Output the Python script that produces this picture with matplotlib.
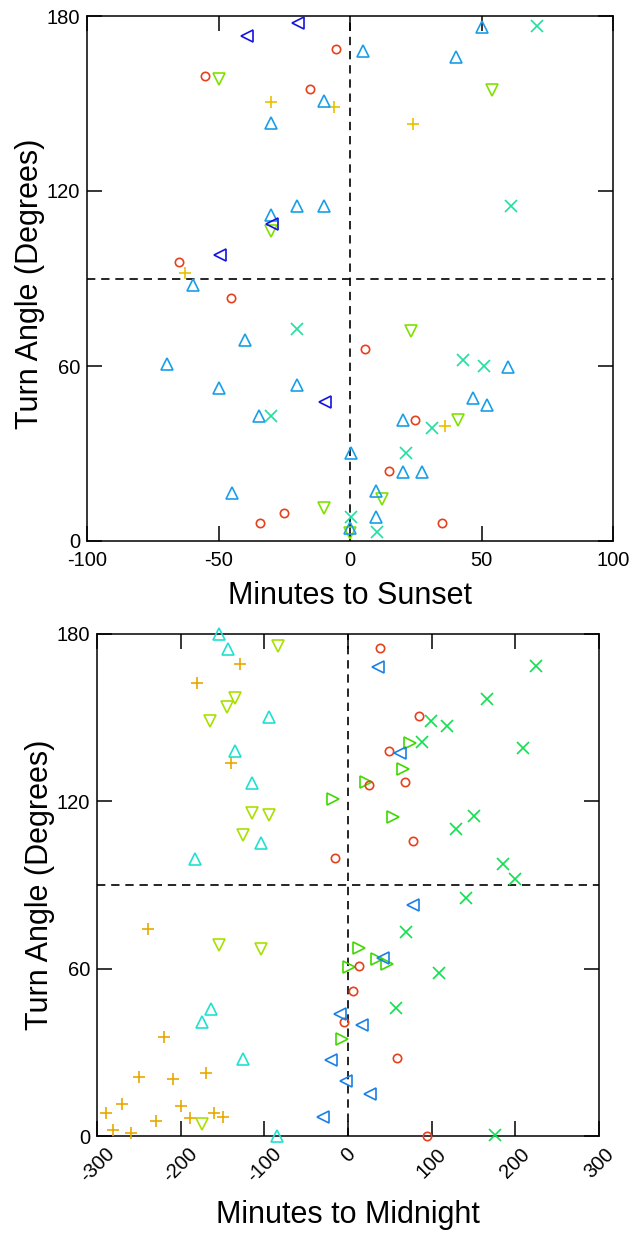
import numpy as np
import matplotlib
matplotlib.use('Agg')
import matplotlib.pyplot as plt

plt.rcParams['font.family'] = ['Liberation Sans', 'DejaVu Sans']
plt.rcParams['axes.unicode_minus'] = False

# TOP PANEL DATA (minutes to sunset, turn angle)
sun_circle_x = [-55, -15.2, -5.3, -65.1, -45.1, -34.2, -25.1, 5.8, 24.8, 14.8, 34.9]
sun_circle_y = [159.4, 154.8, 168.7, 95.8, 83.4, 6.1, 9.5, 65.7, 41.4, 24.1, 6.1]
sun_down_x = [-49.7, -30.2, -9.9, 0, 54.1, 23.1, 41.1, 12]
sun_down_y = [158.3, 106.4, 11.2, 2.6, 154.6, 72, 41.5, 14.5]
sun_plus_x = [-29.9, -6.1, -62.9, 24.1, 36]
sun_plus_y = [150.6, 148.9, 92, 143, 39.4]
sun_up_x = [-9.9, -29.9, -20, -9.9, -29.9, 50.1, 5.1, 40.2, -59.6, -39.8, -69.7,
            -49.7, -20, -34.7, 0.3, -44.9, 0, 60.2, 46.9, 52.2, 20, 20, 27.3, 9.9, 9.9]
sun_up_y = [151, 143.4, 114.8, 114.8, 111.8, 176.3, 168.1, 165.8, 87.8, 68.9, 60.6,
            52.6, 53.4, 43, 30.3, 16.6, 4.3, 59.5, 48.9, 46.5, 41.6, 23.8, 23.8, 17.3, 8.1]
sun_left_x = [-39.3, -19.6, -29.7, -49.4, -9.5]
sun_left_y = [173.1, 177.5, 108.6, 98, 47.8]
sun_x_x = [71, 61.1, -20, -29.9, 0.3, 43.1, 51, 31.1, 21.2, 10.1]
sun_x_y = [176.5, 114.8, 72.6, 42.9, 8.3, 62, 60, 38.9, 30.3, 3.2]

# BOTTOM PANEL DATA (minutes to midnight, turn angle)
mid_plus_x = [-129.1, -180.1, -139.8, -239.4, -219.5, -249.8, -209.5, -169.7, -269.7,
              -199.6, -289.6, -229.5, -188.8, -159.8, -149, -280.5, -259.7]
mid_plus_y = [169.1, 162.5, 133.9, 74.1, 35.6, 21.3, 20.3, 22.7, 11.5,
              10.9, 8.1, 5.5, 6.3, 8.1, 6.9, 2.2, 1]
mid_up_x = [-154.5, -143, -94.4, -134.7, -114.4, -104.3, -182.5, -164.1, -174.1, -125.1, -84.5]
mid_up_y = [180, 174.5, 150.3, 138, 126.7, 105.2, 99.2, 45.4, 40.9, 27.6, 0]
mid_down_x = [-84, -135, -145, -164.9, -114.7, -94.4, -125.1, -154.5, -104.3, -174.1]
mid_down_y = [175.7, 156.9, 153.7, 148.8, 115.9, 115.1, 107.9, 68.5, 66.9, 4.2]
mid_right_x = [-17.5, 74.1, 65.4, 21.5, 54.1, 13.5, 1.6, -7.5, 35, 47]
mid_right_y = [120.7, 140.8, 131.5, 127, 114.3, 67.3, 60.7, 34.7, 63.4, 61.6]
mid_circle_x = [-15.1, 38.2, 84.9, 48.6, 68.1, 25.1, 78.1, 13.5, 6.3, -4.8, 59, 94.8]
mid_circle_y = [99.6, 174.9, 150.7, 138.2, 127, 125.9, 105.8, 61, 52.1, 41, 28.1, 0.1]
mid_left_x = [36.3, 62.1, -9.6, -20.7, -2.4, -29.5, 78.1, 41.4, 17.1, 26.3]
mid_left_y = [168, 137.2, 43.7, 27.2, 19.7, 6.9, 82.8, 63.7, 39.7, 15.1]
mid_x_x = [224.3, 165.7, 99.2, 118.7, 88.8, 208.8, 150.6, 129.1, 185.6, 199.6,
           141, 69.3, 109.2, 57, 175.7]
mid_x_y = [168.6, 156.6, 148.8, 147, 141.4, 139.2, 114.7, 110, 97.4, 92,
           85.4, 73, 58.6, 45.8, 0.4]

top_ticks_x = [-100, -50, 0, 50, 100]
bot_ticks_x = [-300, -200, -100, 0, 100, 200, 300]
ticks_y = [0, 60, 120, 180]

MS = {'o': 6, '^': 9, 'v': 9, '<': 9, '>': 9, '+': 9, 'x': 8}


def pts(ax, x, y, m, c):
    ax.plot(x, y, linestyle='none', marker=m, markersize=MS[m], markerfacecolor='none',
            markeredgecolor=c, markeredgewidth=1.2, clip_on=False, zorder=3)


def style(ax, xlim, xticks):
    ax.set_xlim(xlim)
    ax.set_ylim(0, 180)
    ax.set_xticks(xticks)
    ax.set_yticks(ticks_y)
    ax.tick_params(direction='in', length=11, width=1.1, top=True, right=True,
                   labelsize=14.5, pad=5)
    for s in ax.spines.values():
        s.set_linewidth(1.1)
    ax.axvline(0, color='k', lw=1.2, ls=(0, (5, 3.5)), zorder=1)
    ax.axhline(90, color='k', lw=1.2, ls=(0, (5, 3.5)), zorder=1)


fig = plt.figure(figsize=(6.36, 12.34), dpi=100)

ax1 = fig.add_axes([87/636, 1-541/1234, 526/636, 525/1234])
style(ax1, (-100, 100), top_ticks_x)
pts(ax1, sun_circle_x, sun_circle_y, 'o', '#e8401c')
pts(ax1, sun_down_x, sun_down_y, 'v', '#80e000')
pts(ax1, sun_plus_x, sun_plus_y, '+', '#e8c000')
pts(ax1, sun_up_x, sun_up_y, '^', '#1a9ee8')
pts(ax1, sun_left_x, sun_left_y, '<', '#1414e0')
pts(ax1, sun_x_x, sun_x_y, 'x', '#20e0a0')
ax1.tick_params(axis='x', pad=7)
ax1.set_xlabel('Minutes to Sunset', fontsize=22)
ax1.set_ylabel('Turn Angle (Degrees)', fontsize=22)
ax1.xaxis.set_label_coords(0.5, -0.105)
ax1.xaxis.label.set_verticalalignment('center')
ax1.yaxis.set_label_coords(-0.108, 0.49)
ax1.yaxis.label.set_verticalalignment('center')

ax2 = fig.add_axes([97/636, 1-1136/1234, 502/636, 502/1234])
style(ax2, (-300, 300), bot_ticks_x)
pts(ax2, mid_plus_x, mid_plus_y, '+', '#e8a800')
pts(ax2, mid_up_x, mid_up_y, '^', '#20e0d0')
pts(ax2, mid_down_x, mid_down_y, 'v', '#a8e000')
pts(ax2, mid_right_x, mid_right_y, '>', '#40d800')
pts(ax2, mid_circle_x, mid_circle_y, 'o', '#e8401c')
pts(ax2, mid_left_x, mid_left_y, '<', '#1a80e8')
pts(ax2, mid_x_x, mid_x_y, 'x', '#10e050')
ax2.tick_params(axis='x', labelrotation=45, pad=6)
ax2.set_xlabel('Minutes to Midnight', fontsize=22)
ax2.set_ylabel('Turn Angle (Degrees)', fontsize=22)
ax2.xaxis.set_label_coords(0.5, -0.157)
ax2.xaxis.label.set_verticalalignment('center')
ax2.yaxis.set_label_coords(-0.1135, 0.5)
ax2.yaxis.label.set_verticalalignment('center')

fig.savefig('out.png', dpi=100)
